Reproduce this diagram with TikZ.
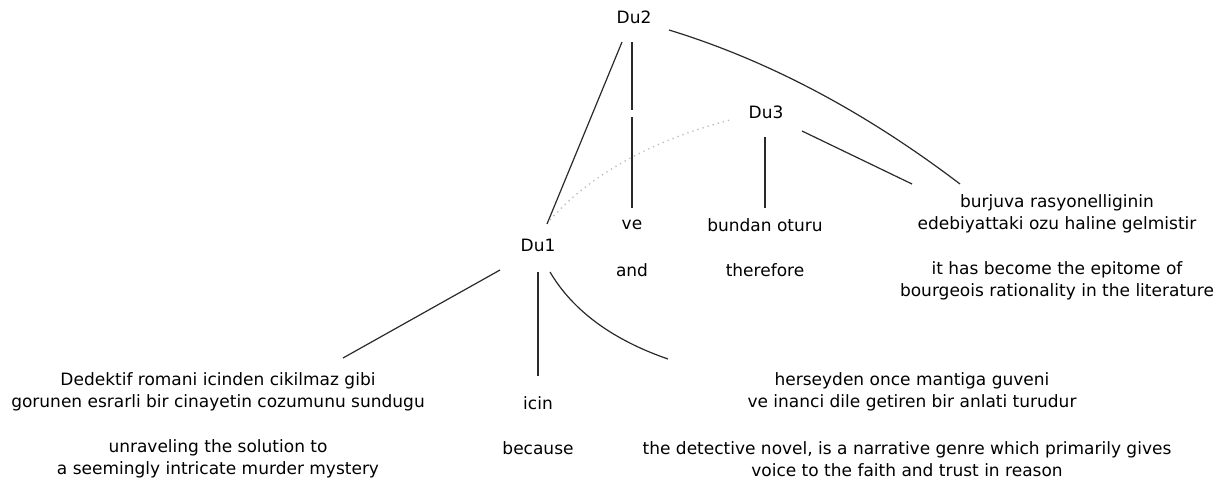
\documentclass[tikz,border=0pt]{standalone}
\usepackage{fontspec}
\setmainfont{DejaVu Sans}
\definecolor{linec}{HTML}{2A2A2A}
\definecolor{dotc}{HTML}{BBBBBB}
\begin{document}
\begin{tikzpicture}[x=1pt,y=-1pt,
  lbl/.style={font=\fontsize{17}{22}\selectfont, align=center, inner sep=0pt, text=black},
  edge/.style={draw=linec, line width=1.2pt},
  rel/.style={draw=dotc, line width=1.3pt, dash pattern=on 1.3pt off 4pt}]
\useasboundingbox (0,0) rectangle (1220,480);
\fill[white] (0,0) rectangle (1220,480);
% nodes
\node[lbl] (du2) at (634,17) {Du2};
\node[lbl] (du3) at (766,112) {Du3};
\node[lbl] (du1) at (538,245) {Du1};
\node[lbl] (ve) at (632,225) {ve};
\node[lbl] (and) at (632,270) {and};
\node[lbl] (bundan) at (765,225) {bundan oturu};
\node[lbl] (therefore) at (765,270) {therefore};
\node[lbl] (burj) at (1057,214) {burjuva rasyonelliginin\\edebiyattaki ozu haline gelmistir};
\node[lbl] (epit) at (1057,281) {it has become the epitome of\\bourgeois rationality in the literature};
\node[lbl] (dedek) at (218,392) {Dedektif romani icinden cikilmaz gibi\\gorunen esrarli bir cinayetin cozumunu sundugu};
\node[lbl] (icin) at (538,403) {icin};
\node[lbl] (hers) at (912,392) {herseyden once mantiga guveni\\ve inanci dile getiren bir anlati turudur};
\node[lbl] (unrav) at (218,459) {unraveling the solution to\\a seemingly intricate murder mystery};
\node[lbl] (because) at (538,448) {because};
\node[lbl] (detect) at (907,459) {the detective novel, is a narrative genre which primarily gives\\voice to the faith and trust in reason};
% gap coordinates on Du2 -- ve
\coordinate (gapa) at (632,110);
\coordinate (gapb) at (632,117);
% connectors
\draw[edge] ([shift={(-12,25)}]du2.center) -- ([shift={(9,-21)}]du1.center);
\draw[edge] ([shift={(-2,25)}]du2.center) -- (gapa);
\draw[edge] (gapb) -- ([shift={(0,-17)}]ve.center);
\draw[edge] ([shift={(35,13)}]du2.center) .. controls (767,60) and (864,111) .. ([shift={(-97,-30)}]burj.center);
\draw[rel] ([shift={(12,-25)}]du1.center) .. controls (590,175) and (650,141) .. ([shift={(-36,8)}]du3.center);
\draw[edge] ([shift={(-1,25)}]du3.center) -- ([shift={(0,-17)}]bundan.center);
\draw[edge] ([shift={(36,19)}]du3.center) -- ([shift={(-145,-30)}]burj.center);
\draw[edge] ([shift={(-38,25)}]du1.center) -- ([shift={(125,-34)}]dedek.center);
\draw[edge] ([shift={(0,27)}]du1.center) -- ([shift={(0,-27)}]icin.center);
\draw[edge] ([shift={(12,27)}]du1.center) .. controls (573,311) and (613,340) .. ([shift={(-244,-33)}]hers.center);
\end{tikzpicture}
\end{document}
